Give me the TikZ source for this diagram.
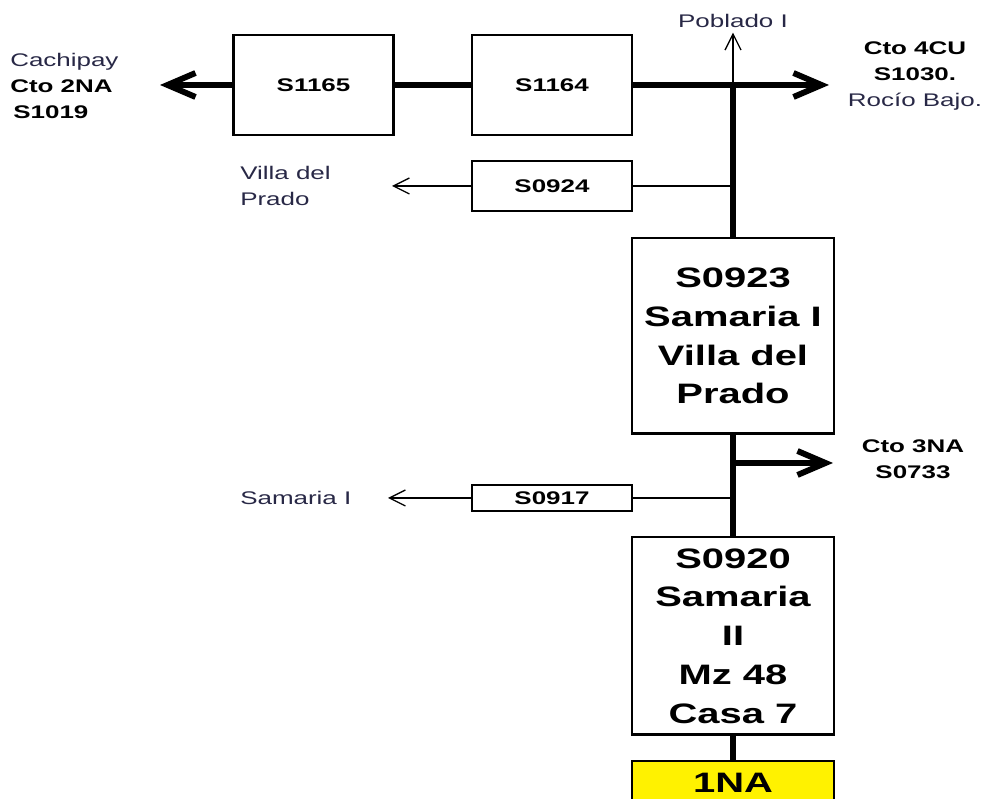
\documentclass[tikz,border=0pt]{standalone}
\usepackage{fontspec}
\setmainfont{Liberation Sans}[FakeStretch=1.42]
\usepackage{xcolor}
\usetikzlibrary{arrows.meta, positioning}
\definecolor{labelgray}{RGB}{40,40,70}
\newcommand{\lblfont}{\fontsize{13}{18.5}\selectfont}
\newcommand{\bigfont}{\fontsize{20}{27.6}\selectfont\bfseries}
\newcommand{\dk}[1]{\textcolor{black}{\textbf{#1}}}

\begin{document}
\begin{tikzpicture}[
    x=0.025cm, y=-0.025cm,
    station/.style={rectangle, draw, line width=1.6pt, fill=white,
      minimum width=4cm, align=center, font=\lblfont\bfseries},
    bigstation/.style={station, minimum width=5.05cm, font=\bigfont},
    feeder/.style={line width=4.2pt},
    feedarrow/.style={feeder, -{Straight Barb[length=7mm, width=6mm]}},
    tap/.style={line width=0.9pt},
    taparrow/.style={tap, -{Straight Barb[length=4mm, width=4mm]}},
    lbl/.style={font=\lblfont, text=labelgray, align=left, inner sep=0pt},
    dest/.style={font=\lblfont\bfseries, align=center, inner sep=0pt}
  ]
  \clip (0,0) rectangle (982,799);

  % stations along the feeder
  \node[station, minimum height=2.5cm]  (s1165) at (313.5,85) {S1165};
  \node[station, minimum height=2.5cm]  (s1164) at (552,85)   {S1164};
  \node[station, minimum height=1.25cm] (s0924) at (552,186)  {S0924};
  \node[station, minimum height=0.65cm] (s0917) at (552,498)  {S0917};
  \node[bigstation, minimum height=4.88cm] (s0923) at (733,336) {S0923\\Samaria I\\Villa del\\Prado};
  \node[bigstation, minimum height=4.93cm] (s0920) at (733,636) {S0920\\Samaria\\II\\Mz 48\\Casa 7};
  \node[bigstation, fill=yellow, minimum height=1.1cm] (na1) at (733,783) {1NA};

  % labels
  \node[lbl, anchor=west]  (cachipay) at (10,86)  {Cachipay\\\dk{Cto 2NA}\\\dk{\,S1019}};
  \node[lbl, anchor=west]  (villa)    at (240,186) {Villa del\\Prado};
  \node[lbl, anchor=west]  (samaria)  at (240,498) {Samaria I};
  \node[lbl, anchor=base]  (poblado)  at (733,28)  {Poblado I};
  \node[dest] (cto4cu) at (915,76)  {Cto 4CU\\S1030.\\\mdseries\color{labelgray}Rocío Bajo.};
  \node[dest] (cto3na) at (913,459) {Cto 3NA\\S0733};

  % free ends
  \coordinate (top)  at (s0923.north |- s1164.east);
  \coordinate (w2na) at (160,85);
  \coordinate (e4cu) at (829,85);
  \coordinate (ptip) at (top |- poblado.south);
  \coordinate (vtip) at (392,186);
  \coordinate (stip) at (388,498);
  \coordinate (j3na) at (733,463);
  \coordinate (e3na) at (833,463);

  \draw[feeder]    (s1165) -- (s1164);
  \draw[feedarrow] (s1165.west) -- (w2na);
  \draw[feedarrow] (s1164.east) -- (e4cu);
  \draw[taparrow]  (top) -- ([yshift=-3pt]ptip);
  \draw[tap]       (s0924.east) -- (s0924.east -| top);
  \draw[taparrow]  (s0924.west) -- (vtip);
  \draw[feeder]    (top) -- (s0923.north);
  \draw[feeder]    (s0923.south) -- (s0920.north);
  \draw[feedarrow] (j3na) -- (e3na);
  \draw[tap]       (s0917.east) -- (s0917.east -| s0920.north);
  \draw[taparrow]  (s0917.west) -- (stip);
  \draw[feeder]    (s0920.south) -- (na1.north);
\end{tikzpicture}
\end{document}
